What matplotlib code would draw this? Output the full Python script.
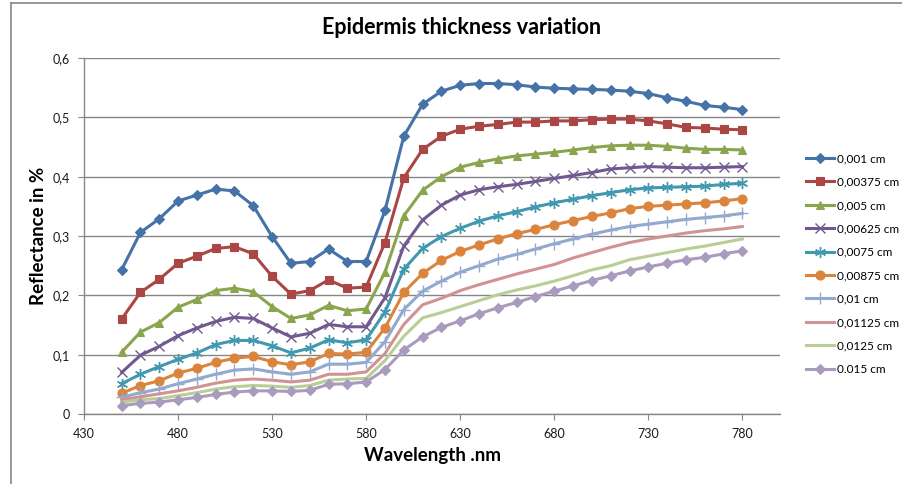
import matplotlib
matplotlib.use("Agg")
import matplotlib.pyplot as plt
from matplotlib.lines import Line2D
from matplotlib.ticker import FuncFormatter

# --- DATOS ---
wavelength = list(range(450, 790, 10))

labels = ["0,001 cm", "0,00375 cm", "0,005 cm", "0,00625 cm", "0,0075 cm",
          "0,00875 cm", "0,01 cm", "0,01125 cm", "0,0125 cm", "0.015 cm"]

r_0001 = [0.243, 0.306, 0.329, 0.359, 0.369, 0.379, 0.376, 0.351, 0.299, 0.254,
          0.257, 0.278, 0.257, 0.257, 0.343, 0.468, 0.522, 0.544, 0.554, 0.557,
          0.557, 0.555, 0.551, 0.549, 0.548, 0.547, 0.546, 0.544, 0.540, 0.533,
          0.527, 0.520, 0.517, 0.513]
r_000375 = [0.160, 0.205, 0.227, 0.254, 0.266, 0.279, 0.282, 0.270, 0.232, 0.202,
            0.208, 0.226, 0.212, 0.214, 0.289, 0.398, 0.446, 0.468, 0.480, 0.485,
            0.488, 0.492, 0.492, 0.494, 0.494, 0.496, 0.497, 0.497, 0.494, 0.489,
            0.483, 0.482, 0.480, 0.479]
r_0005 = [0.104, 0.138, 0.154, 0.180, 0.193, 0.208, 0.212, 0.206, 0.181, 0.161,
          0.167, 0.183, 0.174, 0.177, 0.239, 0.334, 0.377, 0.400, 0.416, 0.424,
          0.430, 0.435, 0.438, 0.441, 0.445, 0.449, 0.452, 0.453, 0.453, 0.451,
          0.448, 0.446, 0.446, 0.445]
r_000625 = [0.070, 0.099, 0.114, 0.132, 0.145, 0.156, 0.163, 0.161, 0.145, 0.130,
            0.136, 0.151, 0.147, 0.147, 0.196, 0.283, 0.327, 0.352, 0.369, 0.378,
            0.383, 0.387, 0.392, 0.397, 0.402, 0.407, 0.413, 0.415, 0.417, 0.416,
            0.415, 0.415, 0.416, 0.417]
r_00075 = [0.051, 0.067, 0.080, 0.092, 0.103, 0.117, 0.124, 0.124, 0.115, 0.103,
           0.111, 0.125, 0.120, 0.125, 0.172, 0.244, 0.279, 0.299, 0.313, 0.325,
           0.334, 0.341, 0.349, 0.356, 0.362, 0.368, 0.373, 0.378, 0.381, 0.382,
           0.383, 0.384, 0.387, 0.389]
r_000875 = [0.035, 0.048, 0.056, 0.069, 0.077, 0.087, 0.094, 0.097, 0.088, 0.083,
            0.088, 0.102, 0.101, 0.104, 0.145, 0.205, 0.237, 0.259, 0.274, 0.285,
            0.295, 0.304, 0.311, 0.319, 0.326, 0.333, 0.339, 0.346, 0.350, 0.352,
            0.354, 0.356, 0.359, 0.363]
r_001 = [0.028, 0.036, 0.042, 0.051, 0.059, 0.067, 0.074, 0.076, 0.071, 0.067,
         0.071, 0.084, 0.084, 0.087, 0.122, 0.176, 0.207, 0.224, 0.239, 0.250,
         0.261, 0.269, 0.278, 0.287, 0.295, 0.303, 0.310, 0.316, 0.320, 0.324,
         0.328, 0.331, 0.334, 0.338]
r_001125 = [0.024, 0.029, 0.034, 0.039, 0.045, 0.052, 0.057, 0.059, 0.057, 0.054,
            0.057, 0.067, 0.067, 0.071, 0.102, 0.151, 0.184, 0.195, 0.208, 0.218,
            0.227, 0.236, 0.244, 0.252, 0.263, 0.272, 0.281, 0.289, 0.295, 0.300,
            0.305, 0.309, 0.312, 0.316]
r_00125 = [0.020, 0.024, 0.026, 0.031, 0.036, 0.042, 0.046, 0.048, 0.047, 0.045,
           0.048, 0.057, 0.059, 0.060, 0.090, 0.131, 0.162, 0.171, 0.181, 0.191,
           0.201, 0.209, 0.216, 0.224, 0.233, 0.243, 0.250, 0.260, 0.266, 0.272,
           0.278, 0.283, 0.289, 0.295]
r_0015 = [0.014, 0.018, 0.020, 0.024, 0.028, 0.033, 0.037, 0.039, 0.039, 0.038,
          0.040, 0.050, 0.051, 0.054, 0.075, 0.108, 0.130, 0.146, 0.157, 0.169,
          0.179, 0.188, 0.198, 0.207, 0.216, 0.225, 0.233, 0.241, 0.248, 0.254,
          0.260, 0.264, 0.270, 0.275]

series = [r_0001, r_000375, r_0005, r_000625, r_00075,
          r_000875, r_001, r_001125, r_00125, r_0015]

# estilo tipo Excel 2007
colors = ["#4572A7", "#AA4643", "#89A54E", "#71588F", "#4198AF",
          "#DB843D", "#93A9CF", "#D19392", "#B9CD96", "#A99BBD"]
markers = ["D", "s", "^", "x", (6, 2, 0), "o", "+", None, None, "D"]
msizes = [5, 6, 6, 7.5, 8, 6.5, 8, 0, 0, 5]

plt.rcParams["font.family"] = ["Lato", "DejaVu Sans"]

fig = plt.figure(figsize=(9.03, 4.84), dpi=100)
ax = fig.add_axes([84 / 903, 1 - 414 / 484, (780 - 84) / 903, (414 - 58) / 484])

for y, lab, c, m, ms in zip(series, labels, colors, markers, msizes):
    ax.plot(wavelength, y, color=c, lw=2.2, marker=m, markersize=ms,
            markeredgewidth=1.0 if m in ("x", "+", (6, 2, 0)) else 0.8,
            markeredgecolor=c, label=lab, solid_joinstyle="round")

ax.set_xlim(430, 800)
ax.set_ylim(0, 0.6)
ax.set_xticks(range(430, 800, 50))
ax.set_yticks([0, 0.1, 0.2, 0.3, 0.4, 0.5, 0.6])
ax.yaxis.set_major_formatter(FuncFormatter(
    lambda v, p: "0" if v == 0 else f"{v:.1f}".replace(".", ",")))

ax.grid(axis="y", color="#868686", lw=1)
ax.set_axisbelow(True)
for s in ["top", "right"]:
    ax.spines[s].set_visible(False)
for s in ["left", "bottom"]:
    ax.spines[s].set_color("#868686")
    ax.spines[s].set_linewidth(1)
ax.tick_params(axis="both", direction="out", length=4, color="#868686",
               labelsize=9, labelcolor="#1a1a1a", pad=6)

ax.set_ylabel("Reflectance in %", fontsize=13.5, fontweight="bold", labelpad=4)
ax.set_xlabel("Wavelength .nm", fontsize=13.5, fontweight="bold", labelpad=5)
fig.text(462 / 903, 1 - 28 / 484, "Epidermis thickness variation",
         fontsize=15.5, fontweight="bold", ha="center", va="center")

ax.legend(loc="center left", bbox_to_anchor=(806 / 903, 1 - 264 / 484),
          bbox_transform=fig.transFigure, frameon=False, fontsize=8.5,
          handlelength=2.4, handletextpad=0.2, labelspacing=1.05,
          borderpad=0, borderaxespad=0)

# marco del grafico (solo arriba e izquierda visibles en la imagen)
fig.add_artist(Line2D([11 / 903, 1], [1 - 3 / 484, 1 - 3 / 484],
                      transform=fig.transFigure, color="#868686", lw=1.2))
fig.add_artist(Line2D([11 / 903, 11 / 903], [0, 1 - 3 / 484],
                      transform=fig.transFigure, color="#868686", lw=1.2))

fig.savefig("out.png", dpi=100)
